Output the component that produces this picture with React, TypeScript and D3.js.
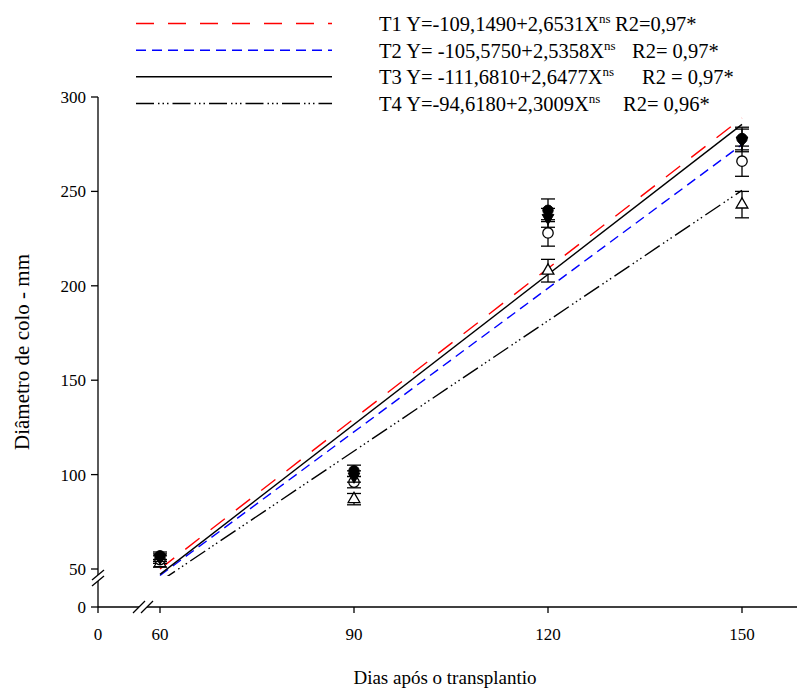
import React from "react";
import * as d3 from "d3";

// ---- data ----
const days = [60, 90, 120, 150];
const seriesNames = ["T1", "T2", "T3", "T4"];
const t1Mean = [57, 102, 240, 278];
const t1Err = [2, 3, 6, 6];
const t2Mean = [55, 96, 228, 266];
const t2Err = [2, 3, 7, 8];
const t3Mean = [56, 99, 236, 277];
const t3Err = [2, 3, 5, 6];
const t4Mean = [53, 87, 208, 243];
const t4Err = [2, 3, 6, 7];
const intercepts = [-109.149, -105.575, -111.681, -94.618];
const slopes = [2.6531, 2.5358, 2.6477, 2.3009];
const eqTexts = [
  "T1 Y=-109,1490+2,6531X",
  "T2 Y= -105,5750+2,5358X",
  "T3 Y= -111,6810+2,6477X",
  "T4 Y=-94,6180+2,3009X",
];
const r2Texts = ["R2=0,97*", "R2= 0,97*", "R2 = 0,97*", "R2= 0,96*"];
const xTicks = [60, 90, 120, 150];
const yTicks = [50, 100, 150, 200, 250, 300];

const means = [t1Mean, t2Mean, t3Mean, t4Mean];
const errs = [t1Err, t2Err, t3Err, t4Err];

// ---- styles ----
const FONT = "'Liberation Serif', 'Times New Roman', serif";
const lineColors = ["#ff0000", "#0000ff", "#000000", "#000000"];
const dashes = ["18,14", "10,6", "none", "18,4,1.5,3,1.5,3,1.5,4"];
const markerKinds = ["filledCircle", "openCircle", "filledTriDown", "openTriUp"];
const r2X = [615, 632, 642, 623];

export default function App() {
  const W = 798;
  const H = 689;
  const xHigh = d3.scaleLinear().domain([60, 150]).range([160, 742]);
  const xLow = d3.scaleLinear().domain([0, 60]).range([98, 160]);
  const yHigh = d3.scaleLinear().domain([50, 300]).range([569, 97]);
  const yLow = d3.scaleLinear().domain([0, 50]).range([607, 569]);

  const x0 = xLow(0);
  const y0 = yLow(0);
  const xBreak = 143;
  const yBreak = 578;
  const xEnd = 797;

  const circleSym = d3.symbol().type(d3.symbolCircle).size(85);
  const triSym = d3.symbol().type(d3.symbolTriangle).size(60);

  const legendBase = [31, 57.7, 84.3, 111];

  const renderMarker = (kind: string, cx: number, cy: number, key: string) => {
    if (kind === "filledCircle")
      return <path key={key} d={circleSym() || ""} transform={`translate(${cx},${cy})`} fill="#000" stroke="#000" strokeWidth={1} />;
    if (kind === "openCircle")
      return <path key={key} d={circleSym() || ""} transform={`translate(${cx},${cy})`} fill="#fff" stroke="#000" strokeWidth={1.3} />;
    if (kind === "filledTriDown")
      return <path key={key} d={triSym() || ""} transform={`translate(${cx},${cy}) rotate(180)`} fill="#000" stroke="#000" strokeWidth={1} />;
    return <path key={key} d={triSym() || ""} transform={`translate(${cx},${cy})`} fill="#fff" stroke="#000" strokeWidth={1.3} />;
  };

  const drawOrder = [3, 1, 2, 0];

  return (
    <div style={{ position: "absolute", left: 0, top: 0 }}>
      <svg width={W} height={H} style={{ display: "block", background: "#fff" }}>
        <defs>
          <clipPath id="plotClip">
            <rect x={150} y={80} width={650} height={yBreak - 2 - 80} />
          </clipPath>
        </defs>

        {/* regression lines */}
        <g clipPath="url(#plotClip)">
          {seriesNames.map((s, i) => {
            const pts: [number, number][] = [60, 150].map((v) => [xHigh(v), yHigh(intercepts[i] + slopes[i] * v)]);
            return (
              <path
                key={"l" + s}
                d={d3.line()(pts) || ""}
                fill="none"
                stroke={lineColors[i]}
                strokeWidth={1.4}
                strokeDasharray={dashes[i]}
              />
            );
          })}
        </g>

        {/* error bars and markers */}
        {drawOrder.map((si) => (
          <g key={"m" + si}>
            {days.map((d, k) => {
              const cx = xHigh(d);
              const top = yHigh(means[si][k] + errs[si][k]);
              const bot = yHigh(means[si][k] - errs[si][k]);
              return (
                <g key={k} stroke="#000" strokeWidth={1.3}>
                  <line x1={cx} x2={cx} y1={top} y2={bot} />
                  <line x1={cx - 7} x2={cx + 7} y1={top} y2={top} />
                  <line x1={cx - 7} x2={cx + 7} y1={bot} y2={bot} />
                </g>
              );
            })}
            {days.map((d, k) => renderMarker(markerKinds[si], xHigh(d), yHigh(means[si][k]), "p" + k))}
          </g>
        ))}

        {/* axes */}
        <g stroke="#000" strokeWidth={1.3} fill="none">
          <line x1={x0} x2={x0} y1={yHigh(300)} y2={yBreak - 3} />
          <line x1={x0} x2={x0} y1={yBreak + 3} y2={y0} />
          <line x1={x0 - 6} x2={x0 + 6} y1={yBreak - 3 + 5} y2={yBreak - 3 - 5} />
          <line x1={x0 - 6} x2={x0 + 6} y1={yBreak + 3 + 5} y2={yBreak + 3 - 5} />
          {yTicks.map((t) => (
            <line key={"yt" + t} x1={x0 - 7} x2={x0} y1={yHigh(t)} y2={yHigh(t)} />
          ))}
          <line x1={x0 - 7} x2={x0} y1={yLow(0)} y2={yLow(0)} />
          <line x1={x0} x2={xBreak - 4} y1={y0} y2={y0} />
          <line x1={xBreak + 4} x2={xEnd} y1={y0} y2={y0} />
          <line x1={xBreak - 4 - 6} x2={xBreak - 4 + 6} y1={y0 + 6} y2={y0 - 6} />
          <line x1={xBreak + 4 - 6} x2={xBreak + 4 + 6} y1={y0 + 6} y2={y0 - 6} />
          <line x1={xLow(0)} x2={xLow(0)} y1={y0} y2={y0 + 6} />
          {xTicks.map((t) => (
            <line key={"xt" + t} x1={xHigh(t)} x2={xHigh(t)} y1={y0} y2={y0 + 6} />
          ))}
        </g>

        {/* tick labels */}
        <g fontFamily={FONT} fontSize={17} fill="#000">
          {yTicks.map((t) => (
            <text key={"yl" + t} x={x0 - 12} y={yHigh(t)} dy="0.35em" textAnchor="end">
              {t}
            </text>
          ))}
          <text x={x0 - 12} y={yLow(0)} dy="0.35em" textAnchor="end">0</text>
          <text x={xLow(0)} y={y0 + 33} textAnchor="middle">0</text>
          {xTicks.map((t) => (
            <text key={"xl" + t} x={xHigh(t)} y={y0 + 33} textAnchor="middle">
              {t}
            </text>
          ))}
        </g>

        {/* axis titles */}
        <text x={445} y={684} textAnchor="middle" fontFamily={FONT} fontSize={19} fill="#000">
          Dias após o transplantio
        </text>
        <text
          transform={`translate(29,352) rotate(-90)`}
          textAnchor="middle"
          fontFamily={FONT}
          fontSize={21}
          fill="#000"
        >
          Diâmetro de colo - mm
        </text>

        {/* legend */}
        {seriesNames.map((s, i) => (
          <g key={"lg" + s}>
            <line
              x1={136}
              x2={332}
              y1={legendBase[i] - 7.5}
              y2={legendBase[i] - 7.5}
              stroke={lineColors[i]}
              strokeWidth={1.4}
              strokeDasharray={dashes[i]}
            />
            <text x={379} y={legendBase[i]} fontFamily={FONT} fontSize={20.5} fill="#000">
              {eqTexts[i]}
              <tspan fontSize={13} dy="-8">ns</tspan>
            </text>
            <text x={r2X[i]} y={legendBase[i]} fontFamily={FONT} fontSize={20.5} fill="#000">
              {r2Texts[i]}
            </text>
          </g>
        ))}
      </svg>
    </div>
  );
}
